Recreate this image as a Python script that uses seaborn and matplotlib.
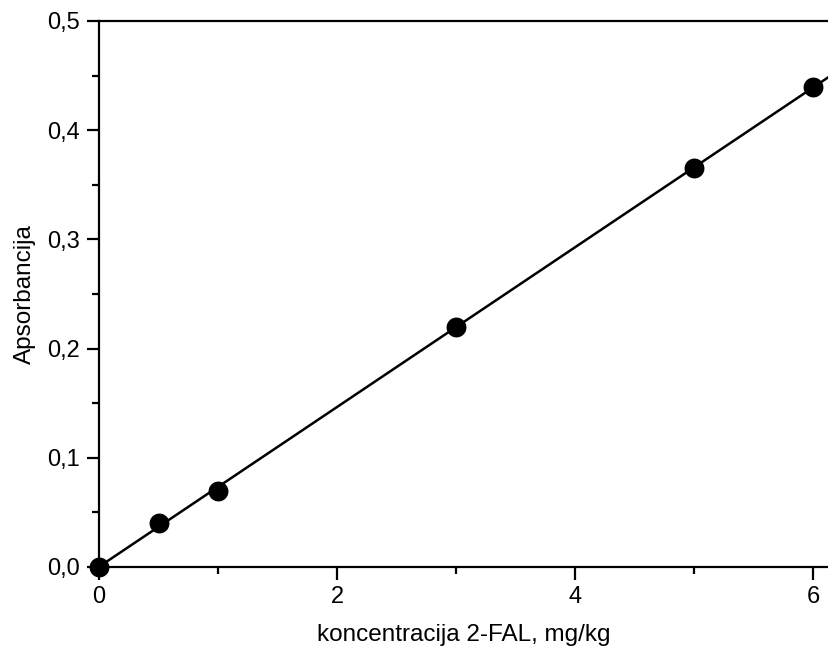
import matplotlib
matplotlib.use('Agg')

import numpy as np
import pandas as pd
import matplotlib.pyplot as plt
import seaborn as sns
from matplotlib.ticker import MultipleLocator, FuncFormatter

# calibration points
koncentracija = [0, 0.5, 1, 3, 5, 6]
apsorbancija = [0.0, 0.04, 0.07, 0.22, 0.365, 0.44]

x_max = 6.134
y_max = 0.5

df = pd.DataFrame({'x': koncentracija, 'y': apsorbancija})

# linear fit over the points, drawn over the full x range
k, n = np.polyfit(df['x'], df['y'], 1)
fit = pd.DataFrame({'x': [0, x_max]})
fit['y'] = k * fit['x'] + n

sns.set_style('ticks', {'text.color': 'black', 'axes.labelcolor': 'black',
                        'xtick.color': 'black', 'ytick.color': 'black',
                        'axes.edgecolor': 'black'})
plt.rcParams['font.family'] = ['Liberation Sans', 'DejaVu Sans']

fig = plt.figure(figsize=(8.29, 6.5), dpi=100)
ax = fig.add_axes([99 / 829, 1 - 567 / 650, 1 - 99 / 829, (567 - 21) / 650])

sns.lineplot(x='x', y='y', data=fit, ax=ax, color='black', linewidth=1.8)
sns.scatterplot(x='x', y='y', data=df, ax=ax, color='black', s=205,
                edgecolor='black', linewidth=0, zorder=5, clip_on=False)

ax.set_xlim(0, x_max)
ax.set_ylim(0, y_max)
ax.xaxis.set_major_locator(MultipleLocator(2))
ax.xaxis.set_minor_locator(MultipleLocator(1))
ax.yaxis.set_major_locator(MultipleLocator(0.1))
ax.yaxis.set_minor_locator(MultipleLocator(0.05))
ax.yaxis.set_major_formatter(FuncFormatter(lambda v, p: f'{v:.1f}'.replace('.', ',')))

ax.tick_params(which='major', direction='out', length=9, width=1.6, labelsize=17, pad=5,
               colors='black')
ax.tick_params(which='minor', direction='out', length=5, width=1.6, colors='black')

for side in ['left', 'bottom', 'top']:
    ax.spines[side].set_linewidth(1.6)
    ax.spines[side].set_color('black')
ax.spines['right'].set_visible(False)

ax.set_xlabel('koncentracija 2-FAL, mg/kg', fontsize=17.5, labelpad=11, color='black')
ax.set_ylabel('Apsorbancija', fontsize=17.5, labelpad=8, color='black')

fig.savefig('out.png', dpi=100)
